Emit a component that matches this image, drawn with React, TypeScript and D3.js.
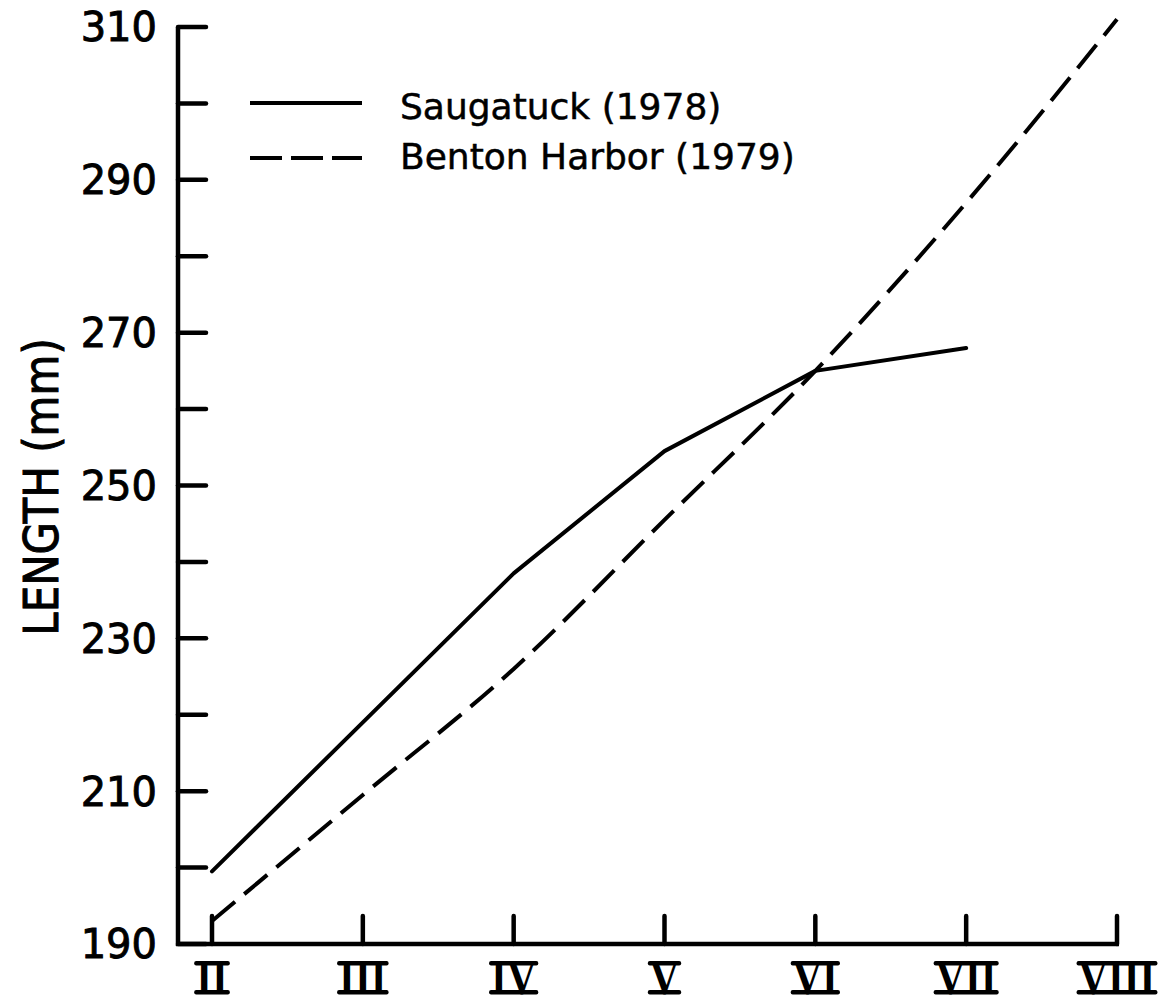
import { useEffect, useRef } from "react";
import * as d3 from "d3";

const AGES = ["II", "III", "IV", "V", "VI", "VII", "VIII"];
const SAUGATUCK = [199.5, 219, 238.5, 254.5, 265, 268];
const BENTON = [193, 209.5, 226, 245.5, 265, 287, 311];
const Y_TICKS = d3.range(190, 311, 10);
const Y_LABELS = [190, 210, 230, 250, 270, 290, 310];

const W = 1165;
const H = 1002;
const FONT = "'DejaVu Sans', 'Liberation Sans', sans-serif";

export default function App() {
  const svgRef = useRef<SVGSVGElement>(null);

  useEffect(() => {
    const svg = d3.select(svgRef.current);
    svg.selectAll("*").remove();

    const axisX = 178;
    const x = d3.scalePoint<string>().domain(AGES).range([212, 1117]);
    const y = d3.scaleLinear().domain([190, 310]).range([944, 27]);

    // y axis
    svg.append("line")
      .attr("x1", axisX).attr("x2", axisX).attr("y1", y(310)).attr("y2", y(190) + 2)
      .attr("stroke", "#000").attr("stroke-width", 4.5);
    for (const t of Y_TICKS) {
      svg.append("line")
        .attr("x1", axisX).attr("x2", axisX + 28).attr("y1", y(t)).attr("y2", y(t))
        .attr("stroke", "#000").attr("stroke-width", 4.5).attr("stroke-linecap", "round");
    }
    for (const t of Y_LABELS) {
      svg.append("text")
        .attr("x", 157).attr("y", y(t)).attr("dy", "0.36em")
        .attr("text-anchor", "end").attr("font-family", FONT)
        .attr("font-size", 40).attr("fill", "#000")
        .attr("stroke", "#000").attr("stroke-width", 0.9).text(t);
    }

    // x axis
    svg.append("line")
      .attr("x1", axisX - 2).attr("x2", x("VIII")! + 2).attr("y1", y(190)).attr("y2", y(190))
      .attr("stroke", "#000").attr("stroke-width", 4.5);
    for (const a of AGES) {
      svg.append("line")
        .attr("x1", x(a)!).attr("x2", x(a)!).attr("y1", y(190)).attr("y2", y(190) - 28)
        .attr("stroke", "#000").attr("stroke-width", 4.5).attr("stroke-linecap", "round");
      const txt = svg.append("text")
        .attr("transform", `translate(${x(a)!},994) scale(1.1,1.3)`)
        .attr("text-anchor", "middle").attr("font-family", "'Liberation Serif', 'DejaVu Serif', serif")
        .attr("font-weight", "bold").attr("font-size", 37).attr("fill", "#000")
        .text(a);
      // joined serif bars above and below the numeral
      const bw = (txt.node() as SVGTextElement).getBBox().width * 1.1 + 4;
      for (const by of [961, 990]) {
        svg.append("rect")
          .attr("x", x(a)! - bw / 2).attr("y", by).attr("width", bw).attr("height", 4.5)
          .attr("rx", 2).attr("fill", "#000");
      }
    }

    // axis title
    svg.append("text")
      .attr("transform", `translate(58,487) rotate(-90) scale(1,1.15)`)
      .attr("text-anchor", "middle").attr("font-family", FONT)
      .attr("font-size", 42).attr("fill", "#000")
      .attr("stroke", "#000").attr("stroke-width", 0.9).text("LENGTH (mm)");

    // series
    const solid = d3.line<number>()
      .x((_, i) => x(AGES[i])!).y((d) => y(d));
    svg.append("path").attr("d", solid(SAUGATUCK))
      .attr("fill", "none").attr("stroke", "#000").attr("stroke-width", 4)
      .attr("stroke-linejoin", "round").attr("stroke-linecap", "round");

    const dashed = d3.line<number>()
      .x((_, i) => x(AGES[i])!).y((d) => y(d)).curve(d3.curveMonotoneX);
    svg.append("path").attr("d", dashed(BENTON))
      .attr("fill", "none").attr("stroke", "#000").attr("stroke-width", 4)
      .attr("stroke-dasharray", "30,12");

    // legend
    const legend = [
      { label: "Saugatuck (1978)", dash: null, ly: 103, ty: 106 },
      { label: "Benton Harbor (1979)", dash: "32,9", ly: 158, ty: 156 },
    ];
    for (const l of legend) {
      svg.append("line")
        .attr("x1", 250).attr("x2", 362).attr("y1", l.ly).attr("y2", l.ly)
        .attr("stroke", "#000").attr("stroke-width", 4)
        .attr("stroke-dasharray", l.dash);
      svg.append("text")
        .attr("x", 400).attr("y", l.ty).attr("dy", "0.36em")
        .attr("font-family", FONT).attr("font-size", 36)
        .attr("fill", "#000").attr("stroke", "#000").attr("stroke-width", 0.5)
        .text(l.label);
    }
  }, []);

  return (
    <svg ref={svgRef} width={W} height={H}
      style={{ position: "absolute", left: 0, top: 0, background: "#fff" }} />
  );
}
